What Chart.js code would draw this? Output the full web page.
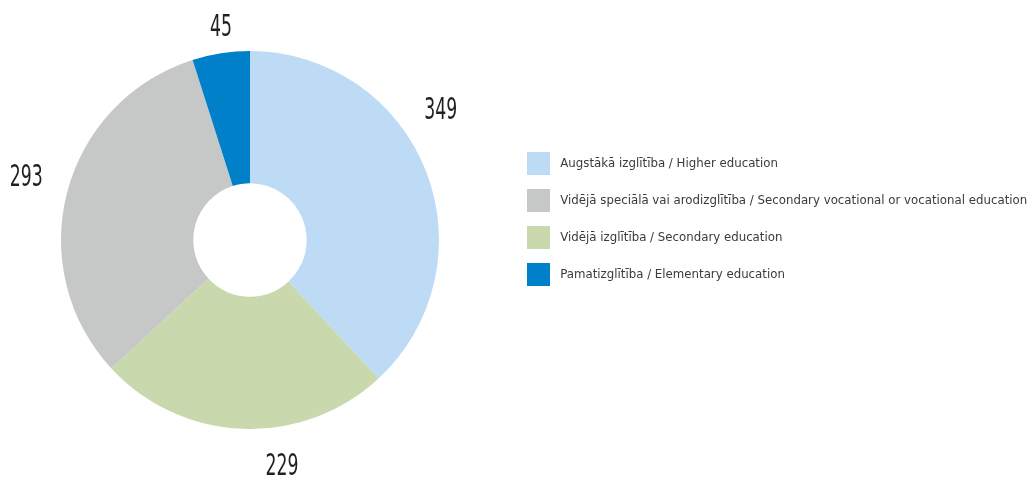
<!DOCTYPE html>
<html>
<head>
<meta charset="utf-8">
<script src="https://cdn.jsdelivr.net/npm/chart.js@4.4.1/dist/chart.umd.min.js"></script>
<style>
  html, body { margin: 0; padding: 0; background: #fff; }
  #wrap { width: 1031px; height: 480px; }
</style>
</head>
<body>
<div id="wrap"><canvas id="eduChart" width="1031" height="480"></canvas></div>
<script>
// slices in drawing order (clockwise from the top)
const categories = [
    'Augstākā izglītība / Higher education',
    'Vidējā izglītība / Secondary education',
    'Vidējā speciālā vai arodizglītība / Secondary vocational or vocational education',
    'Pamatizglītība / Elementary education'
];
const values = [349, 229, 293, 45];
const colors = ['#bddbf4', '#c9d8ad', '#c6c7c7', '#0080c8'];
// legend lists the slices in another order
const legendOrder = [0, 2, 1, 3];

const FONT = "'Liberation Sans Narrow', 'DejaVu Sans Condensed', sans-serif";

// value labels outside the ring
const outsideLabels = {
    id: 'outsideLabels',
    afterDatasetsDraw(chart, args, opts) {
        const ctx = chart.ctx;
        const arcs = chart.getDatasetMeta(0).data;
        ctx.save();
        ctx.fillStyle = opts.color;
        ctx.font = opts.size + 'px ' + FONT;
        ctx.textAlign = 'center';
        ctx.textBaseline = 'middle';
        arcs.forEach((arc, i) => {
            const p = arc.getProps(['x', 'y', 'startAngle', 'endAngle', 'outerRadius'], true);
            const mid = (p.startAngle + p.endAngle) / 2 + opts.turn[i] * Math.PI / 180;
            const r = p.outerRadius * opts.dist[i];
            const x = p.x + Math.cos(mid) * r;
            const y = p.y + Math.sin(mid) * r;
            ctx.save();
            ctx.translate(x, y);
            ctx.scale(opts.squeeze, 1);
            ctx.fillText(String(chart.data.datasets[0].data[i]), 0, 1);
            ctx.restore();
        });
        ctx.restore();
    }
};

// legend box gets a fixed width and is then moved into place
const legendPlace = {
    id: 'legendPlace',
    beforeLayout(chart, args, opts) {
        const lg = chart.legend;
        if (lg && !lg._patched) {
            const fit = lg.fit;
            lg.fit = function () {
                fit.call(this);
                this.width = opts.width;
            };
            lg._patched = true;
        }
    },
    afterLayout(chart, args, opts) {
        const lg = chart.legend;
        lg.left += opts.dx; lg.right += opts.dx;
        lg.top += opts.dy; lg.bottom += opts.dy;
    }
};

const baseLabels = Chart.overrides.doughnut.plugins.legend.labels.generateLabels;

const ctx = document.getElementById('eduChart').getContext('2d');
const chart = new Chart(ctx, {
    type: 'doughnut',
    data: {
        labels: categories,
        datasets: [{
            data: values,
            backgroundColor: colors,
            borderWidth: 0
        }]
    },
    options: {
        responsive: false,
        animation: false,
        events: [],
        cutout: '30%',
        layout: {
            padding: { top: 51, bottom: 51, left: 0, right: 0 }
        },
        plugins: {
            tooltip: { enabled: false },
            legend: {
                position: 'right',
                labels: {
                    boxWidth: 23,
                    boxHeight: 23,
                    padding: 14,
                    color: '#3b3b3b',
                    font: { family: FONT, size: 13.1 },
                    // a leading space widens the gap after the colour box
                    generateLabels: (chart) => baseLabels(chart).map(l => ({ ...l, text: ' ' + l.text })),
                    sort: (a, b) => legendOrder.indexOf(a.index) - legendOrder.indexOf(b.index)
                }
            },
            legendPlace: { width: 531, dx: 13, dy: -21 },
            outsideLabels: {
                color: '#231f20',
                size: 31,
                squeeze: 0.62,
                turn: [-12.8, -10.2, 0.9, 1.1],
                dist: [1.22, 1.21, 1.23, 1.14]
            }
        }
    },
    plugins: [legendPlace, outsideLabels]
});
</script>
</body>
</html>
